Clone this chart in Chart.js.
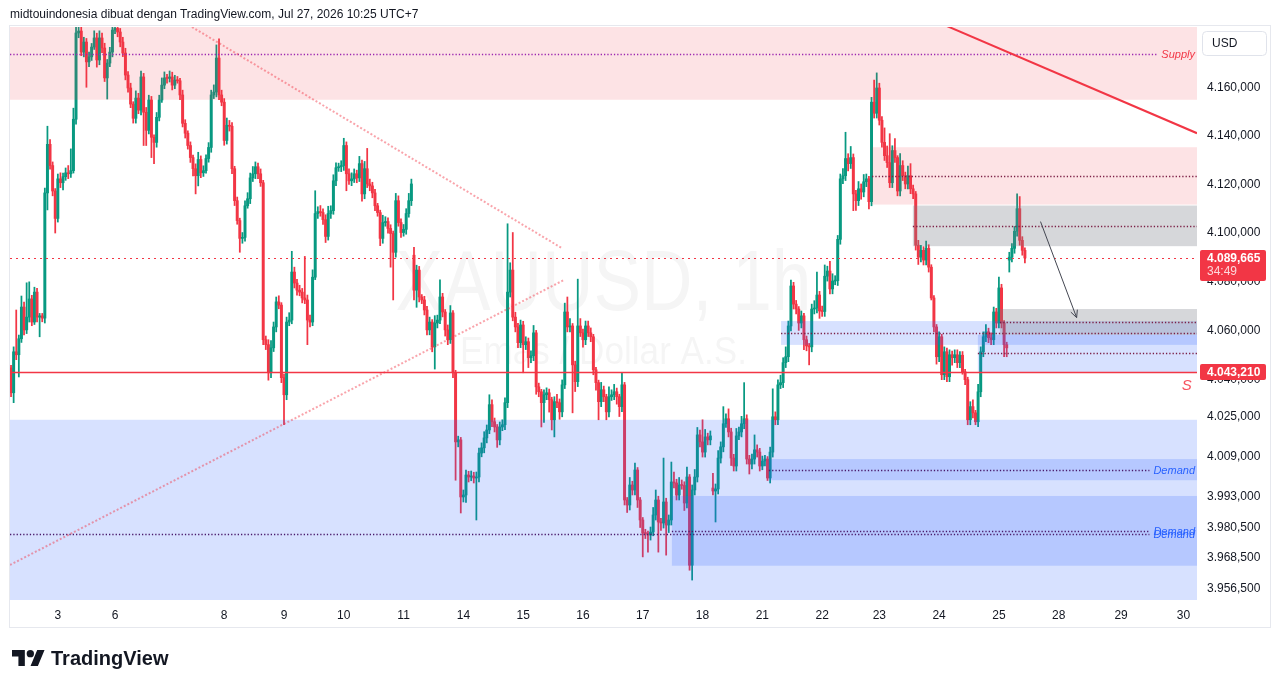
<!DOCTYPE html>
<html><head><meta charset="utf-8">
<script src="https://cdn.jsdelivr.net/npm/chart.js"></script>
<style>
html,body{margin:0;padding:0;background:#fff;}
#wrap{position:relative;width:1281px;height:688px;overflow:hidden;background:#fff;}
#c{position:absolute;left:0;top:0;}
#hdr{position:absolute;left:10px;top:6px;font:12px "Liberation Sans",Arial,sans-serif;color:#131722;line-height:16px;white-space:nowrap;}
#logo{position:absolute;left:12px;top:647px;height:22px;display:flex;align-items:center;}
#logo span{font:bold 20px "Liberation Sans",Arial,sans-serif;color:#131722;margin-left:6px;}
</style></head><body>
<div id="wrap"><canvas id="c" width="1281" height="688"></canvas>
<div id="hdr">midtouindonesia dibuat dengan TradingView.com, Jul 27, 2026 10:25 UTC+7</div>
<div id="logo"><svg width="33" height="16.5" viewBox="0 4 36 18"><path fill="#131722" d="M14 22H7V11H0V4h14v18zM28 22h-8l7.5-18h8L28 22z"/><circle fill="#131722" cx="20" cy="8" r="4"/></svg><span>TradingView</span></div>
</div>
<script>
// ---------- DATA ----------
const firstOpen = 4044.9;
const gapOpens = {155: 4090.8, 270: 3996.5, 384: 4088.8};
const closes = [
4034.8,4051.4,4050.2,4056.7,4069.6,4060.3,4065.5,4072.9,4063.5,4075.7,
4065.5,4066.0,4065.1,4116.4,4136.5,4127.7,4117.2,4105.9,4122.2,4120.6,
4123.1,4124.7,4124.3,4125.6,4146.9,4182.9,4183.7,4174.9,4179.1,4170.8,
4172.9,4177.0,4180.8,4171.6,4180.8,4176.6,4164.1,4170.3,4174.9,4184.1,
4184.8,4183.3,4179.1,4174.5,4165.3,4159.9,4153.2,4147.3,4155.7,4150.7,
4164.5,4149.8,4142.3,4154.9,4139.4,4137.3,4147.7,4154.9,4161.1,4164.1,
4163.9,4164.5,4161.1,4163.2,4162.9,4157.0,4145.2,4141.1,4136.0,4131.0,
4126.4,4123.5,4130.2,4124.7,4125.6,4130.6,4135.2,4157.0,4158.2,4172.4,
4157.0,4154.0,4138.1,4144.4,4144.0,4126.4,4113.2,4105.0,4097.7,4098.1,
4111.1,4114.0,4122.6,4124.3,4127.2,4124.3,4120.6,4056.3,4054.3,4042.9,
4053.0,4061.5,4071.7,4070.4,4040.9,4034.0,4063.5,4064.3,4083.9,4079.4,
4076.5,4075.7,4073.3,4072.5,4064.3,4063.5,4081.8,4107.9,4108.7,4108.3,
4105.4,4098.5,4107.9,4109.1,4121.4,4126.8,4127.2,4127.7,4136.0,4124.3,
4121.4,4122.2,4124.3,4122.6,4128.5,4116.0,4126.4,4120.1,4119.3,4116.4,
4111.1,4108.3,4097.7,4104.2,4104.6,4101.8,4099.7,4092.0,4113.2,4104.2,
4100.1,4101.4,4107.9,4113.2,4120.1,4076.5,4084.7,4073.7,4072.5,4068.4,
4060.3,4063.5,4053.4,4063.1,4064.3,4073.7,4067.6,4060.3,4056.3,4067.2,
4042.9,4015.0,4015.8,3992.9,3993.7,4001.7,4000.9,4001.3,4000.5,4000.9,
4010.5,4012.6,4016.6,4019.8,4030.0,4023.1,4021.0,4015.8,4021.0,4021.9,
4030.8,4075.7,4084.7,4065.5,4061.5,4055.1,4062.3,4054.3,4055.5,4049.0,
4049.8,4059.1,4037.2,4035.2,4030.8,4034.0,4034.8,4032.0,4023.9,4031.2,
4030.8,4027.1,4038.0,4067.6,4061.5,4061.9,4046.1,4039.3,4061.9,4059.1,
4056.3,4061.9,4059.1,4057.5,4044.1,4038.9,4031.2,4036.0,4033.2,4027.1,
4033.2,4034.0,4035.2,4033.2,4029.2,4038.0,3991.7,3989.7,3997.7,3995.7,
4003.7,3991.7,3983.7,3978.5,3978.3,3977.7,3978.9,3985.7,3991.7,3982.9,
3982.5,3990.9,3981.7,3983.7,3998.9,3998.5,3993.7,3997.7,3997.5,3990.5,
4000.9,3965.7,3995.7,4000.9,4017.8,4015.0,4010.9,4017.0,4015.8,4017.4,
3995.3,3996.1,4008.5,4013.0,4022.3,4024.3,4019.0,4008.5,4005.3,4017.4,
4019.0,4022.3,4024.3,4008.1,4006.1,4008.1,4011.8,4010.9,4005.3,4007.3,
4008.1,4000.5,4010.9,4025.1,4023.9,4038.0,4038.9,4047.0,4049.4,4061.9,
4078.2,4070.8,4068.8,4063.1,4066.0,4056.3,4053.8,4053.4,4068.8,4069.2,
4074.5,4068.0,4067.8,4082.2,4084.3,4077.0,4080.2,4080.4,4097.3,4122.2,
4123.5,4130.6,4128.5,4131.0,4116.0,4113.2,4118.1,4116.8,4121.0,4122.2,
4112.8,4154.0,4149.4,4159.9,4146.5,4137.3,4131.8,4128.9,4120.6,4133.9,
4131.0,4117.2,4127.7,4123.5,4120.1,4123.5,4118.1,4116.0,4094.9,4090.0,
4092.8,4088.8,4093.6,4085.9,4073.3,4061.5,4049.4,4057.5,4042.1,4051.4,
4041.3,4050.2,4049.0,4050.2,4047.0,4050.0,4043.3,4040.1,4023.9,4029.2,
4026.7,4023.1,4035.2,4051.4,4057.5,4059.5,4057.1,4056.3,4067.6,4063.1,
4077.4,4063.1,4054.3,4053.0,4090.0,4093.6,4100.6,4109.9,4096.9,4092.8,
4089.665];
const wickUp = [
1,2,17,1.5,4.5,2,14,7,1.5,2,
1.5,1,1,2,7.5,2,1.5,1,2,2.5,
1.5,2,3,9,4.6,3,2,3,2,1.5,
2,1.5,3,2,3,2,2,1.5,2,3,
3,2,1.5,2,2,1.5,2,1,3,2,
2.5,1.5,2,2,1.5,1,2,2,3,2.5,
1.5,2.5,2,2,1.5,1,2,1.5,1,1.5,
1,2,3,1.5,2,1.5,2,2,3,5.5,
8,2,1.5,3,2,1.5,1,1.5,1,2,
2,2.5,2,3,2,1.5,2,1,1.5,2,
3,2,2,2.5,1,1.5,2,3,8.5,2,
1.5,2,1.5,17,2,2,3,9.4,2,2.5,
1.5,2,3,2,2.5,2,1.5,2,3,1.5,
2,2.5,2,1.5,3,1.5,3,8.4,2,1.5,
1.5,1,1,3,2,1.5,1.5,1,3,2,
1.5,2,2,3,2,3.2,2,1.5,1,1.5,
1.5,2,1,3,2,7,1.5,1,2,3,
1,1,1.5,1,2,2,1.5,2,1.5,2,
2,2,2.5,2,4,2,1.5,1,2,2,
2,28,3,15.4,2,1.5,2,1.5,2,1.5,
2,3,1,1.5,1,2,2,1.5,1,2,
3,1.5,2,3.6,6.1,3,1,1.5,19.1,3,
1.5,2,2,2,1,1,1,3,1.5,1,
4,2,3,1.5,1,4.9,1,1,3,1.5,
2.8,1,1,1,1.5,1,2,3,4,1.5,
1.5,17.6,1.5,2,8,4,1.5,3,2,1.5,
4,1,2,3,3,2,8.9,3,1.5,2,
5.9,2,3,2,6.9,2,4,1.5,1.5,3,
2,3,14.6,1.6,1.5,2,6,2,1.5,2,
1.5,1,2,11.3,2,2,3,2,4,2,
2.4,1.5,1.5,1,2,1,1.5,1,2,3,
9.4,1.5,2,4.6,2,4,3,2,1.6,2,
3,10.9,2,4.6,1.5,1.5,3,2,3,2,
1,2,9.2,6.3,2,1.5,6,4,12,2,
5,0.8,5,2,1.5,4,5,1.5,1,2,
2,1.5,3,1.5,1,1,1,2,1,2,
1.5,2,1.5,2,2,1.5,1.5,1,1,2,
2.8,1,3,2,2,3,1.5,2,2,1.5,
4.4,1.5,1,1,2,2,2,6.1,5,1.5,
1];
const wickDown = [
1.6,4,2,9,1.5,2,1.5,2,1.5,1,
2,8,1.5,2,7,1.5,2,6,1.5,2,
3,1.5,2,1.5,1,2,2,1.5,2,10.6,
2,1.5,1,3,2,2,1.5,8.8,1.5,2,
1.5,2,2,1.5,2,1.7,1.5,2,2,1.5,
2,13.8,6.3,1.5,8.4,8.8,2,1.5,1,1.5,
2,1.5,2,1.5,1,2,1.5,2,1.5,2,
3,7.5,4.2,2,1.5,1,1.5,2,1.5,2,
2,1.5,2,1.5,2,2,2,1.5,5.7,2,
1.5,1,2,1.5,2,2,1.5,2,2,3,
2,1.5,2,1.5,2,12.1,2,1.5,1.5,2,
2,1.5,2,1.5,10,2,1.5,1,2,1.5,
2,2.5,1.5,2,1.5,2,1.5,2,2,7,
1.5,2,1.5,2,1.5,3,2,1.5,2,2,
2,1.5,3,2,1.5,2,13.8,19.5,2,1.5,
2,1.5,2,1.5,2,4,7,2,1.5,2,
2,2,2,9,2,1.5,2,2.5,2,1.5,
2,15.4,2,6.4,2,3,2,1.5,2,16.8,
2,1.5,2,2,1.5,2,2,3,2,1.5,
2,2,2,1.5,2,2,2,11.4,2,4,
2,2,3,2,9.8,8,2,5,4.1,6.9,
2,3,2,1.5,2,2,19.4,4,2,1.5,
3,2,1.5,2,2,3,7.3,2,2,3.2,
2,1.5,2,3,4,2,2,3,2,2,
2,3,3,9.5,2,6.8,2,1.5,2,12,
3,2,12,3,2,2,2,2,1.5,3,
2,2,5.9,2,2,2,2,2,2,2,
1.6,12.4,2,2,2,1.5,2,3,2,2,
1.5,2,2,2,4,2,2,2,2,1.5,
2,1,2,2,2,2,1.5,2,2,2,
2,2,2,3,2,4,2,7.3,2,2,
2,3,2,2,2,2,2,1.5,2,2,
2,2,3,2,6.9,4,2,3,2,2,
3,1.7,2,2,2,2,2,2,2,2,
2,2,2,2,2,2,2,2,2,3,
2,2,2,2,0.8,2,3,2,2,2,
2,2,3,2,2,2,1,2,2,2,
2,1.2,2,2,2,2,2,2,2,2,
2,2,4.9,3.6,4.9,2,2,2,2,2,
2];
const dayLabels = ['3','6','8','9','10','11','14','15','16','17','18','21','22','23','24','25','28','29','30'];
const dayTickIdx = [18,40,82,105,128,151,174,197,220,243,266,289,312,334,357,380,403,427,451];
const priceTicks = [4160,4140,4120,4100,4080,4060,4040,4025,4009,3993,3980.5,3968.5,3956.5];
const lastPrice = 4089.665;
const markLevel = 4043.21;
const countdown = '34:49';
// zones (drawings): start candle index, top price, bottom price
const zoneStart  = [-2, -2, 331.2, 346.9, 296.2, 371.9, 380.4, 291.5, 254.2];
const zoneTop    = [4193, 4023.9, 4135.3, 4111.2, 4063.9, 4058.3, 4068.8, 4008.1, 3993.3];
const zoneBottom = [4155, 3933, 4111.6, 4094.5, 4054.2, 4043.2, 4058.3, 3999.6, 3965.5];
const zoneKind   = ['supply','demand','supply','neutral','demand','demand','neutral','demand','demand'];
const zoneLabel  = ['Supply','Demand','','','','','','Demand','Demand'];
// trend lines: [index, price]
const trendFrom = [[359.8, 4185.9], [69.6, 4185.4], [-0.4, 3965.8]];
const trendTo   = [[456.2, 4141.1], [211.9, 4093.7], [212.6, 4080.6]];
const arrowFrom = [396.0, 4104.6];
const arrowTo   = [409.9, 4065.3];
const sMark = [452.3, 4037.6];
const watermark = ['XAUUSD, 1h', 'Emas / Dollar A.S.'];

// ---------- BUILD ----------
const GREEN = '#089981', RED = '#f23645';
const opens = closes.map((c, i) => i === 0 ? firstOpen : (gapOpens[i] !== undefined ? gapOpens[i] : closes[i - 1]));
const highs = closes.map((c, i) => Math.max(opens[i], c) + wickUp[i]);
const lows = closes.map((c, i) => Math.min(opens[i], c) - wickDown[i]);
const colors = closes.map((c, i) => c >= opens[i] ? GREEN : RED);

function fmt(v) {
  const s = Number(v).toFixed(3).split('.');
  return s[0].replace(/\B(?=(\d{3})+(?!\d))/g, '.') + ',' + s[1];
}
const FONT = "'Liberation Sans', Arial, sans-serif";
Chart.defaults.font.family = FONT;

const FILL = {supply: 'rgba(242,54,69,0.14)', demand: 'rgba(41,98,255,0.19)', neutral: 'rgba(120,123,134,0.30)'};

function line(ctx, x0, y0, x1, y1, color, w, dash) {
  ctx.save(); ctx.strokeStyle = color; ctx.lineWidth = w; ctx.setLineDash(dash || []);
  ctx.beginPath(); ctx.moveTo(x0, y0); ctx.lineTo(x1, y1); ctx.stroke(); ctx.restore();
}
function scaledText(ctx, text, size, width, x, y, color) {
  ctx.save(); ctx.font = size + 'px ' + FONT; ctx.fillStyle = color;
  ctx.textAlign = 'center'; ctx.textBaseline = 'middle';
  const w = ctx.measureText(text).width;
  ctx.translate(x, y); ctx.scale(width / w, 1); ctx.fillText(text, 0, 0); ctx.restore();
}

const overlay = {
  id: 'overlay',
  beforeDatasetsDraw(chart) {
    const {ctx, chartArea: a} = chart;
    ctx.save(); ctx.beginPath(); ctx.rect(a.left, a.top, a.width, a.height); ctx.clip();
    const cx = (a.left + a.right) / 2, cy = (a.top + a.bottom) / 2;
    scaledText(ctx, watermark[0], 85, 416, cx, cy - 27, 'rgba(19,23,34,0.042)');
    scaledText(ctx, watermark[1], 39, 287, cx, cy + 40, 'rgba(19,23,34,0.042)');
    ctx.restore();
  },
  afterDatasetsDraw(chart) {
    const {ctx, chartArea: a} = chart;
    const xs = chart.scales.x, ys = chart.scales.y;
    const X = v => xs.getPixelForValue(v), Y = v => ys.getPixelForValue(v);
    ctx.save(); ctx.beginPath(); ctx.rect(a.left, a.top, a.width, a.height); ctx.clip();
    // zones
    zoneStart.forEach((s, k) => {
      const x0 = X(s), y0 = Y(zoneTop[k]), y1 = Y(zoneBottom[k]);
      ctx.fillStyle = FILL[zoneKind[k]];
      ctx.fillRect(x0, y0, a.right - x0, y1 - y0);
    });
    // mid lines and labels
    zoneStart.forEach((s, k) => {
      const x0 = Math.max(X(s), a.left);
      const ym = Math.round((Y(zoneTop[k]) + Y(zoneBottom[k])) / 2) + 0.5;
      let xe = a.right;
      let col = '#7b1f45';
      if (zoneLabel[k]) {
        ctx.save();
        ctx.font = 'italic 11px ' + FONT;
        ctx.textAlign = 'right'; ctx.textBaseline = 'middle';
        ctx.fillStyle = zoneKind[k] === 'supply' ? '#f23645' : '#2962ff';
        const w = ctx.measureText(zoneLabel[k]).width;
        ctx.fillText(zoneLabel[k], a.right - 2, ym);
        ctx.restore();
        xe = a.right - 2 - w - 4;
        col = zoneKind[k] === 'supply' ? '#9c27b0' : '#4a1a6b';
      }
      line(ctx, x0, ym, xe, ym, col, 1.3, [1.3, 2]);
    });
    // horizontal levels
    const ym = Math.round(Y(markLevel)) + 0.5;
    line(ctx, a.left, ym, a.right, ym, RED, 1.5);
    const yl = Math.round(Y(lastPrice)) + 0.5;
    line(ctx, a.left, yl, a.right, yl, RED, 1.2, [2, 4]);
    // trend lines
    line(ctx, X(trendFrom[0][0]), Y(trendFrom[0][1]), X(trendTo[0][0]), Y(trendTo[0][1]), RED, 2);
    for (let k = 1; k < trendFrom.length; k++) {
      line(ctx, X(trendFrom[k][0]), Y(trendFrom[k][1]), X(trendTo[k][0]), Y(trendTo[k][1]), 'rgba(242,54,69,0.45)', 2, [2, 2]);
    }
    // arrow
    const ax0 = X(arrowFrom[0]), ay0 = Y(arrowFrom[1]), ax1 = X(arrowTo[0]), ay1 = Y(arrowTo[1]);
    line(ctx, ax0, ay0, ax1, ay1, '#434651', 1);
    const ang = Math.atan2(ay1 - ay0, ax1 - ax0);
    [-0.45, 0.45].forEach(d => line(ctx, ax1, ay1, ax1 - 8 * Math.cos(ang + d), ay1 - 8 * Math.sin(ang + d), '#434651', 1));
    // S mark
    ctx.font = 'italic 15px ' + FONT; ctx.fillStyle = '#f7525f';
    ctx.textAlign = 'center'; ctx.textBaseline = 'middle';
    ctx.fillText('S', X(sMark[0]), Y(sMark[1]));
    ctx.restore();
  },
  afterDraw(chart) {
    const {ctx} = chart;
    const ys = chart.scales.y;
    ctx.save();
    // frame
    ctx.strokeStyle = '#e6e8ee'; ctx.lineWidth = 1;
    ctx.strokeRect(9.5, 25.5, 1261, 602);
    // last price label
    const yl = Math.round(ys.getPixelForValue(lastPrice));
    ctx.fillStyle = RED;
    ctx.beginPath(); ctx.roundRect(1200, yl - 8, 66, 31, 2); ctx.fill();
    ctx.textAlign = 'left'; ctx.textBaseline = 'middle';
    ctx.font = 'bold 12px ' + FONT; ctx.fillStyle = '#fff';
    ctx.fillText(fmt(lastPrice), 1207, yl + 0.5);
    ctx.font = '12px ' + FONT; ctx.fillStyle = 'rgba(255,255,255,0.8)';
    ctx.fillText(countdown, 1207, yl + 14);
    // mark level label
    const ym = Math.round(ys.getPixelForValue(markLevel));
    ctx.fillStyle = RED;
    ctx.beginPath(); ctx.roundRect(1200, ym - 8, 66, 16, 2); ctx.fill();
    ctx.font = 'bold 12px ' + FONT; ctx.fillStyle = '#fff';
    ctx.fillText(fmt(markLevel), 1207, ym + 0.5);
    // USD box
    ctx.fillStyle = '#fff'; ctx.strokeStyle = '#e0e3eb';
    ctx.beginPath(); ctx.roundRect(1202.5, 31.5, 64, 24, 4); ctx.fill(); ctx.stroke();
    ctx.font = '12px ' + FONT; ctx.fillStyle = '#131722';
    ctx.fillText('USD', 1212, 44);
    ctx.restore();
  }
};

new Chart(document.getElementById('c'), {
  type: 'bar',
  data: {
    datasets: [
      {label: 'wick', data: closes.map((c, i) => ({x: i, y: [lows[i], highs[i]]})),
       backgroundColor: colors, barThickness: 1.1, grouped: false, borderWidth: 0},
      {label: 'body', data: closes.map((c, i) => ({x: i, y: [opens[i], c]})),
       backgroundColor: colors, barThickness: 2.3, grouped: false, minBarLength: 1, borderWidth: 0}
    ]
  },
  options: {
    responsive: false, animation: false, events: [],
    layout: {padding: {left: 10, top: 27, right: 11, bottom: 61}},
    plugins: {legend: {display: false}, tooltip: {enabled: false}},
    scales: {
      x: {type: 'linear', min: -0.4, max: 456.2, offset: false,
          grid: {display: false, drawTicks: false}, border: {display: false},
          afterBuildTicks: s => { s.ticks = dayTickIdx.map(v => ({value: v})); },
          afterFit: s => { s.height = 27; },
          ticks: {autoSkip: false, maxRotation: 0, padding: 8, color: '#131722', font: {size: 12},
                  callback: (v, i) => dayLabels[i]}},
      y: {type: 'logarithmic', position: 'right', min: 3951.9, max: 4185.4,
          grid: {display: false, drawTicks: false}, border: {display: false},
          afterBuildTicks: s => { s.ticks = priceTicks.map(v => ({value: v})); },
          afterFit: s => { s.width = 73; },
          ticks: {autoSkip: false, padding: 10, color: '#131722', font: {size: 12},
                  callback: v => fmt(v)}}
    }
  },
  plugins: [overlay]
});
</script>
</body></html>
